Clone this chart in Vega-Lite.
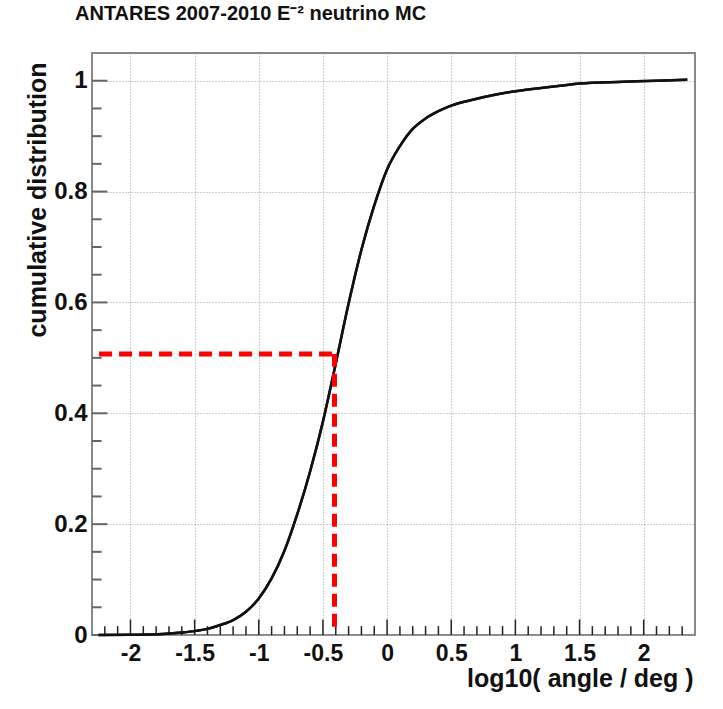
{
  "$schema": "https://vega.github.io/schema/vega-lite/v6.json",
  "width": 603,
  "height": 582,
  "autosize": {"type": "none"},
  "padding": {"left": 92, "top": 53, "right": 28, "bottom": 74},
  "background": "white",
  "title": {
    "text": "ANTARES 2007-2010 E⁻² neutrino MC",
    "anchor": "start",
    "frame": "group",
    "dx": -17,
    "offset": 13,
    "baseline": "alphabetic",
    "font": "Liberation Sans",
    "fontSize": 20,
    "fontWeight": "bold",
    "color": "#111"
  },
  "datasets": {
    "curve": [
      {"x": -2.25, "y": 0.0}, {"x": -2.0, "y": 0.0005}, {"x": -1.75, "y": 0.002},
      {"x": -1.6, "y": 0.0045}, {"x": -1.5, "y": 0.007}, {"x": -1.4, "y": 0.011},
      {"x": -1.3, "y": 0.018}, {"x": -1.2, "y": 0.027}, {"x": -1.1, "y": 0.042},
      {"x": -1.0, "y": 0.066}, {"x": -0.9, "y": 0.102}, {"x": -0.8, "y": 0.152},
      {"x": -0.7, "y": 0.218}, {"x": -0.6, "y": 0.295}, {"x": -0.5, "y": 0.385},
      {"x": -0.4, "y": 0.49}, {"x": -0.3, "y": 0.598}, {"x": -0.2, "y": 0.695},
      {"x": -0.1, "y": 0.775}, {"x": 0.0, "y": 0.84}, {"x": 0.1, "y": 0.882},
      {"x": 0.2, "y": 0.913}, {"x": 0.3, "y": 0.932}, {"x": 0.4, "y": 0.945},
      {"x": 0.5, "y": 0.955}, {"x": 0.675, "y": 0.966}, {"x": 0.85, "y": 0.975},
      {"x": 1.0, "y": 0.981}, {"x": 1.2, "y": 0.987}, {"x": 1.35, "y": 0.991},
      {"x": 1.5, "y": 0.995}, {"x": 1.84, "y": 0.998}, {"x": 2.1, "y": 1.0},
      {"x": 2.34, "y": 1.002}
    ],
    "red": [
      {"x": -2.245, "x2": -0.39, "y": 0.507, "y2": 0.507},
      {"x": -0.41, "x2": -0.41, "y": 0.015, "y2": 0.507}
    ],
    "xmajor": [
      {"x": -2}, {"x": -1.5}, {"x": -1}, {"x": -0.5}, {"x": 0}, {"x": 0.5},
      {"x": 1}, {"x": 1.5}, {"x": 2}
    ],
    "xminor": [
      {"x": -2.2}, {"x": -2.1}, {"x": -1.9}, {"x": -1.8}, {"x": -1.7}, {"x": -1.6},
      {"x": -1.4}, {"x": -1.3}, {"x": -1.2}, {"x": -1.1}, {"x": -0.9}, {"x": -0.8},
      {"x": -0.7}, {"x": -0.6}, {"x": -0.4}, {"x": -0.3}, {"x": -0.2}, {"x": -0.1},
      {"x": 0.1}, {"x": 0.2}, {"x": 0.3}, {"x": 0.4}, {"x": 0.6}, {"x": 0.7},
      {"x": 0.8}, {"x": 0.9}, {"x": 1.1}, {"x": 1.2}, {"x": 1.3}, {"x": 1.4},
      {"x": 1.6}, {"x": 1.7}, {"x": 1.8}, {"x": 1.9}, {"x": 2.1}, {"x": 2.2}, {"x": 2.3}
    ],
    "ymajor": [
      {"y": 0}, {"y": 0.2}, {"y": 0.4}, {"y": 0.6}, {"y": 0.8}, {"y": 1.0}
    ],
    "yminor": [
      {"y": 0.05}, {"y": 0.1}, {"y": 0.15}, {"y": 0.25}, {"y": 0.3}, {"y": 0.35},
      {"y": 0.45}, {"y": 0.5}, {"y": 0.55}, {"y": 0.65}, {"y": 0.7}, {"y": 0.75},
      {"y": 0.85}, {"y": 0.9}, {"y": 0.95}
    ]
  },
  "layer": [
    {
      "data": {"name": "curve"},
      "mark": {"type": "line", "color": "#111", "strokeWidth": 2.5, "interpolate": "monotone"},
      "encoding": {
        "x": {
          "field": "x", "type": "quantitative",
          "scale": {"domain": [-2.3, 2.4], "nice": false, "zero": false},
          "axis": {
            "title": "log10( angle / deg )",
            "values": [-2, -1.5, -1, -0.5, 0, 0.5, 1, 1.5, 2],
            "format": ".1~f",
            "labelBaseline": "alphabetic",
            "labelPadding": 25,
            "labelFontSize": 23,
            "titleX": 601,
            "titleY": 51,
            "titleAlign": "right",
            "titleBaseline": "alphabetic"
          }
        },
        "y": {
          "field": "y", "type": "quantitative",
          "scale": {"domain": [0, 1.05], "nice": false, "zero": false},
          "axis": {
            "title": "cumulative distribution",
            "values": [0, 0.2, 0.4, 0.6, 0.8, 1.0],
            "format": ".1~f",
            "labelPadding": 5,
            "titleX": -47,
            "titleY": 9,
            "titleAngle": -90,
            "titleAlign": "right",
            "titleBaseline": "alphabetic"
          }
        }
      }
    },
    {
      "data": {"name": "xmajor"},
      "mark": {"type": "rule", "color": "#222", "strokeWidth": 1.5},
      "encoding": {
        "x": {"field": "x", "type": "quantitative"},
        "y": {"datum": 0, "type": "quantitative"},
        "y2": {"datum": 0.028}
      }
    },
    {
      "data": {"name": "xminor"},
      "mark": {"type": "rule", "color": "#222", "strokeWidth": 1.5},
      "encoding": {
        "x": {"field": "x", "type": "quantitative"},
        "y": {"datum": 0, "type": "quantitative"},
        "y2": {"datum": 0.016}
      }
    },
    {
      "data": {"name": "ymajor"},
      "mark": {"type": "rule", "color": "#666", "strokeWidth": 2},
      "encoding": {
        "y": {"field": "y", "type": "quantitative"},
        "x": {"datum": -2.3, "type": "quantitative"},
        "x2": {"datum": -2.18}
      }
    },
    {
      "data": {"name": "yminor"},
      "mark": {"type": "rule", "color": "#666", "strokeWidth": 2},
      "encoding": {
        "y": {"field": "y", "type": "quantitative"},
        "x": {"datum": -2.3, "type": "quantitative"},
        "x2": {"datum": -2.225}
      }
    },
    {
      "data": {"name": "curve"},
      "mark": {"type": "line", "color": "#111", "strokeWidth": 2.5, "interpolate": "monotone"},
      "encoding": {
        "x": {"field": "x", "type": "quantitative"},
        "y": {"field": "y", "type": "quantitative"}
      }
    },
    {
      "data": {"name": "red"},
      "mark": {"type": "rule", "color": "#ff0000", "strokeWidth": 5, "strokeDash": [13, 7]},
      "encoding": {
        "x": {"field": "x", "type": "quantitative"},
        "x2": {"field": "x2"},
        "y": {"field": "y", "type": "quantitative"},
        "y2": {"field": "y2"}
      }
    }
  ],
  "config": {
    "locale": {
      "number": {"decimal": ".", "thousands": ",", "grouping": [3], "currency": ["$", ""], "minus": "-"}
    },
    "view": {"stroke": "#888", "strokeWidth": 2},
    "axis": {
      "domain": false,
      "ticks": false,
      "grid": true,
      "gridColor": "#a0a0a0",
      "gridDash": [1, 2],
      "gridWidth": 1,
      "labelFont": "Liberation Sans",
      "labelFontSize": 24,
      "labelFontWeight": "bold",
      "labelColor": "#111",
      "titleFont": "Liberation Sans",
      "titleFontSize": 25,
      "titleFontWeight": "bold",
      "titleColor": "#111"
    }
  }
}
